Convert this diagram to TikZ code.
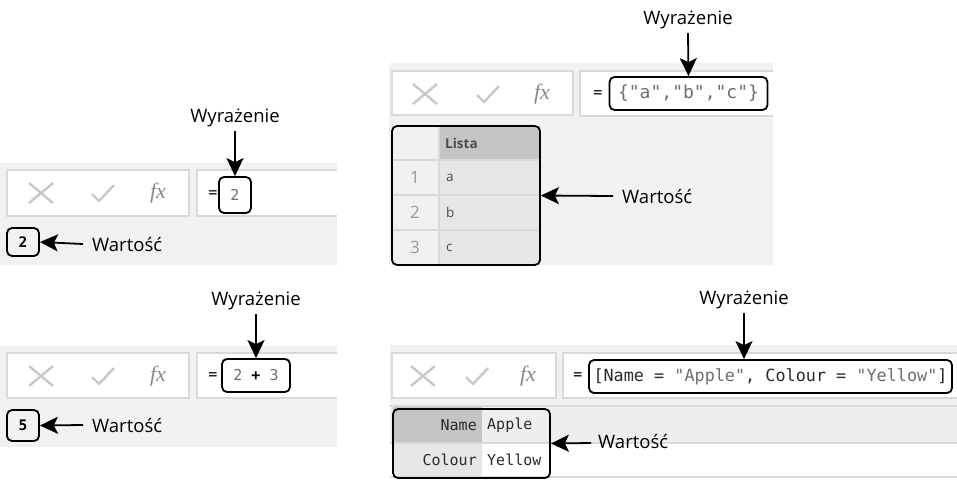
\documentclass[tikz,border=0pt]{standalone}
\usepackage{fontspec}
\setmainfont{Open Sans}
\newfontfamily\uifont{Open Sans}
\newfontfamily\monofont{DejaVu Sans Mono}
\newfontfamily\fxfont{Liberation Serif}
\usetikzlibrary{arrows.meta}
\definecolor{panelgray}{HTML}{F1F1F1}
\definecolor{boxline}{HTML}{D9D9D9}
\definecolor{iconcol}{HTML}{C8C8C8}
\definecolor{fxcol}{HTML}{888888}
\definecolor{strcol}{HTML}{6E6E6E}
\definecolor{hdrcol}{HTML}{C4C4C4}
\definecolor{cellcol}{HTML}{E6E6E6}
\definecolor{idxcol}{HTML}{F0F0F0}
\definecolor{rowcol}{HTML}{EEEEEE}
\definecolor{keycol}{HTML}{2A2A2A}
\tikzset{
  panel/.style={fill=panelgray, draw=none},
  tbox/.style={fill=white, draw=boxline, line width=1.5pt},
  hl/.style={draw=black, line width=1.8pt, rounded corners=5pt},
  lbl/.style={font=\fontsize{18.5}{20}\selectfont, inner sep=0pt},
  mono/.style={font=\monofont\fontsize{15}{17}\selectfont, inner sep=0pt},
  ptr/.style={line width=1.8pt, -{Stealth[length=18pt,width=17pt,inset=4pt]}},
  icon/.style={draw=iconcol, line width=2.4pt},
  fxlbl/.style={font=\fxfont\itshape\fontsize{22}{23}\selectfont, text=fxcol, inner sep=0pt},
  grid/.style={draw=boxline, line width=1.2pt},
}
\newcommand{\toolicons}[4]{% xX, xcheck, xfx, y
  \draw[icon] (#1-12,#4-10) -- (#1+12,#4+10) (#1-12,#4+10) -- (#1+12,#4-10);
  \draw[icon] (#2-11,#4+1) -- (#2-4,#4+8) -- (#2+11,#4-8);
  \node[fxlbl] at (#3,#4) {fx};
}
\begin{document}
\begin{tikzpicture}[x=1pt,y=-1pt]
\useasboundingbox (0,0) rectangle (957,480);

% ---------------- Panel 1 ----------------
\fill[panelgray] (0,163) rectangle (337,265);
\draw[tbox] (7,170) rectangle (189,216);
\fill[white] (197,170) rectangle (337,216);
\draw[boxline, line width=1.5pt] (337,170) -- (197,170) -- (197,216) -- (337,216);
\toolicons{41}{103}{158}{193}
\node[mono, text=black] (eq1) at (213,194) {=};
\node[hl, mono, text=strcol, minimum width=32pt, minimum height=36pt] (e1) at (235,195) {2};
\node[lbl] (w1) at (235,118) {Wyrażenie};
\draw[ptr] (w1.south) ++(0,4) -- (e1.north);
\node[hl, mono, text=black, font=\monofont\bfseries\fontsize{14.5}{16}\selectfont, minimum width=32pt, minimum height=28pt] (v1) at (23,242) {2};
\node[lbl, anchor=west] (l1) at (92,244) {Wartość};
\coordinate (a1) at (83,244);
\draw[ptr] (a1) -- (v1.east);

% ---------------- Panel 2 ----------------
\fill[panelgray] (389,63) rectangle (773,265);
\draw[tbox] (392,71) rectangle (573,115);
\fill[white] (580,71) rectangle (773,116);
\draw[boxline, line width=1.5pt] (773,71) -- (580,71) -- (580,116) -- (773,116);
\toolicons{425}{488}{542}{94}
\node[mono, text=black] (eq2) at (598,94) {=};
\node[hl, mono, text=strcol, minimum width=158pt, minimum height=33pt, font=\monofont\fontsize{18}{20}\selectfont] (e2) at (688.5,93.5) {\{"a","b","c"\}};
\node[lbl] (w2) at (688,20) {Wyrażenie};
\draw[ptr] (w2.south) ++(0,4) -- (e2.north);
% table
\fill[idxcol] (392,126) rectangle (439,265);
\fill[hdrcol] (439,126) rectangle (540,160);
\fill[cellcol] (439,160) rectangle (540,265);
\draw[grid] (392,160) -- (540,160) (392,195) -- (540,195) (392,230) -- (540,230) (439,126) -- (439,265);
\node[hl, minimum width=148pt, minimum height=139pt, fill=none] (t2) at (466,195.5) {};
\node[font=\uifont\bfseries\fontsize{13.5}{15}\selectfont, text=black!70, anchor=west, inner sep=0pt] (hd) at (445,143) {Lista};
\foreach \i/\l/\y in {1/a/177.5, 2/b/212.5, 3/c/247.5} {
  \node[font=\uifont\fontsize{17}{19}\selectfont, text=black!40, inner sep=0pt] (n\i) at (415,\y) {\i};
  \node[font=\uifont\fontsize{13.5}{15}\selectfont, text=black!70, anchor=west, inner sep=0pt] (d\i) at (446,\y) {\l};
}
\node[lbl, anchor=west] (l2) at (622,196) {Wartość};
\coordinate (a2) at (613,196);
\draw[ptr] (a2) -- (t2.east);

% ---------------- Panel 3 ----------------
\fill[panelgray] (0,346) rectangle (337,447);
\draw[tbox] (7,353) rectangle (189,398);
\fill[white] (197,353) rectangle (337,398);
\draw[boxline, line width=1.5pt] (337,353) -- (197,353) -- (197,398) -- (337,398);
\toolicons{41}{103}{158}{376}
\node[mono, text=black] (eq3) at (213,376) {=};
\node[hl, mono, minimum width=68pt, minimum height=33pt] (e3) at (256,375.5) {\textcolor{strcol}{2} \textbf{+} \textcolor{strcol}{3}};
\node[lbl] (w3) at (256,301) {Wyrażenie};
\draw[ptr] (w3.south) ++(0,4) -- (e3.north);
\node[hl, mono, text=black, font=\monofont\bfseries\fontsize{14.5}{16}\selectfont, minimum width=32pt, minimum height=31pt] (v3) at (23,425.5) {5};
\node[lbl, anchor=west] (l3) at (92,425) {Wartość};
\coordinate (a3) at (83,425);
\draw[ptr] (a3) -- (v3.east);

% ---------------- Panel 4 ----------------
\fill[panelgray] (390,345) rectangle (957,406);
\fill[rowcol] (390,406) rectangle (957,443);
\fill[white] (390,443) rectangle (957,477);
\fill[hdrcol] (393,406) rectangle (482,443);
\fill[cellcol] (393,443) rectangle (482,477);
\draw[grid] (390,406) -- (957,406) (390,443) -- (957,443) (390,477) -- (957,477);
\draw[tbox] (392,353) rectangle (556,398);
\fill[white] (563,353) rectangle (957,398);
\draw[boxline, line width=1.5pt] (957,353) -- (563,353) -- (563,398) -- (957,398);
\toolicons{423}{477}{528}{376}
\node[mono, text=black] (eq4) at (578,376) {=};
\node[hl, mono, font=\monofont\fontsize{16.8}{18}\selectfont, minimum width=363pt, minimum height=33pt, text=keycol] (e4) at (770.5,376.5) {[Name = \textcolor{strcol}{"Apple"}, Colour = \textcolor{strcol}{"Yellow"}]};
\node[lbl] (w4) at (744,300) {Wyrażenie};
\draw[ptr] (w4.south) ++(0,4) -- (w4.south |- e4.north);
\node[hl, minimum width=157pt, minimum height=69pt] (r4) at (471.5,443.5) {};
\node[mono, font=\monofont\fontsize{15}{17}\selectfont, anchor=east, text=keycol] (k1) at (477,425) {Name};
\node[mono, font=\monofont\fontsize{15}{17}\selectfont, anchor=east, text=keycol] (k2) at (477,460) {Colour};
\node[mono, font=\monofont\fontsize{15}{17}\selectfont, anchor=west, text=keycol] (c1) at (487,425) {Apple};
\node[mono, font=\monofont\fontsize{15}{17}\selectfont, anchor=west, text=keycol] (c2) at (487,460) {Yellow};
\node[lbl, anchor=west] (l4) at (598,441) {Wartość};
\coordinate (a4) at (591,443);
\draw[ptr] (a4) -- (r4.east);
\end{tikzpicture}
\end{document}
